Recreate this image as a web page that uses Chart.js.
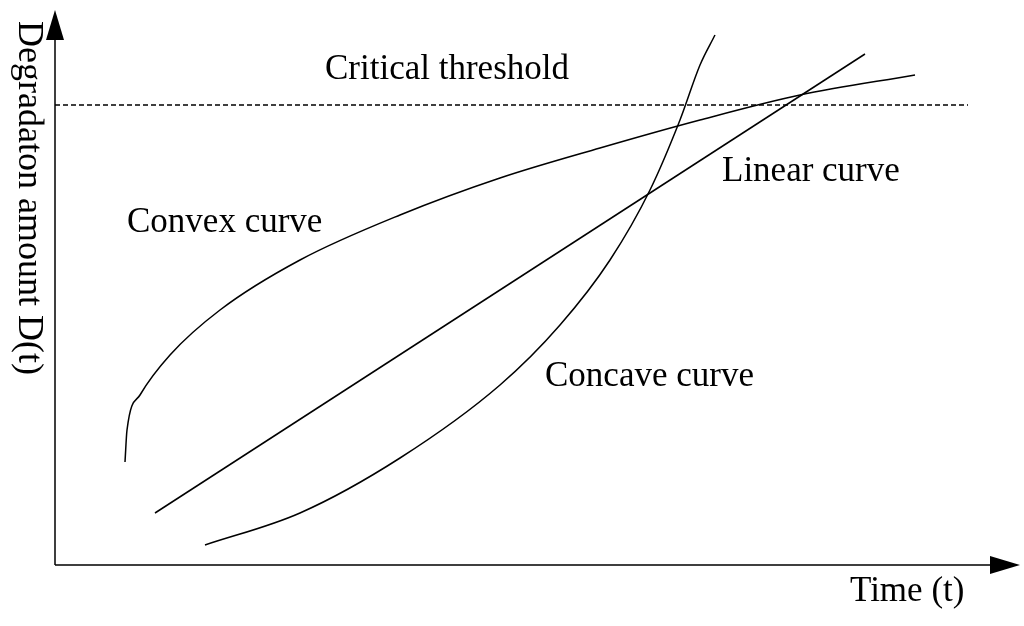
<!DOCTYPE html>
<html><head><meta charset="utf-8">
<script src="https://cdn.jsdelivr.net/npm/chart.js@4"></script>
<style>html,body{margin:0;background:#fff}#w{width:1024px;height:626px}</style>
</head><body><div id="w"><canvas id="c"></canvas></div>
<script>
const convexT = [70,72,85,115,165,245,345,445,545,645,745,860];
const convexD = [103,135,170,210,255,305,350,387,417,445,470,490];
const linearT = [100,810];
const linearD = [52,511];
const concaveT = [150,245,345,445,505,555,595,625,645,660];
const concaveD = [20,52,107,180,240,305,375,445,500,530];
const thresholdT = [0,913];
const thresholdD = [460,460];
const labels = [
  {text:"Critical threshold", t:270, d:495},
  {text:"Linear curve", t:667, d:393},
  {text:"Convex curve", t:72, d:342},
  {text:"Concave curve", t:490, d:188}
];
const xTitle = "Time (t)", yTitle = "Degradaton amount D(t)";
const pts=(a,b)=>a.map((v,i)=>({x:v,y:b[i]}));
const ds=(a,b,extra)=>Object.assign({data:pts(a,b),borderColor:'#000',borderWidth:1.5,pointRadius:0,cubicInterpolationMode:'monotone',fill:false},extra||{});
const deco={id:'deco',afterDraw(ch){
  const c=ch.ctx,a=ch.chartArea,xs=ch.scales.x,ys=ch.scales.y;
  c.save();c.strokeStyle='#000';c.fillStyle='#000';c.lineWidth=1.5;
  c.beginPath();c.moveTo(a.left,a.bottom);c.lineTo(a.right-5,a.bottom);c.moveTo(a.left,a.bottom);c.lineTo(a.left,a.top+5);c.stroke();
  c.beginPath();c.moveTo(a.right+10,a.bottom);c.lineTo(a.right-20,a.bottom-9);c.lineTo(a.right-20,a.bottom+9);c.fill();
  c.beginPath();c.moveTo(a.left,a.top-5);c.lineTo(a.left-9,a.top+25);c.lineTo(a.left+9,a.top+25);c.fill();
  c.font='35px "Liberation Serif"';c.textBaseline='middle';
  labels.forEach(l=>c.fillText(l.text,xs.getPixelForValue(l.t),ys.getPixelForValue(l.d)));
  c.fillText(xTitle,850,592);
  c.font='36px "Liberation Serif"';
  c.translate(28,198);c.rotate(Math.PI/2);c.textAlign='center';c.fillText(yTitle,0,0);
  c.restore();}};
new Chart(document.getElementById('c'),{type:'line',
 data:{datasets:[ds(convexT,convexD),ds(linearT,linearD),ds(concaveT,concaveD),ds(thresholdT,thresholdD,{borderWidth:1.4,borderDash:[5,3]})]},
 options:{responsive:true,maintainAspectRatio:false,animation:false,
  layout:{padding:{left:55,right:14,top:15,bottom:61}},
  plugins:{legend:{display:false},tooltip:{enabled:false}},
  scales:{x:{type:'linear',min:0,max:955,display:false},y:{min:0,max:550,display:false}}},
 plugins:[deco]});
</script></body></html>
